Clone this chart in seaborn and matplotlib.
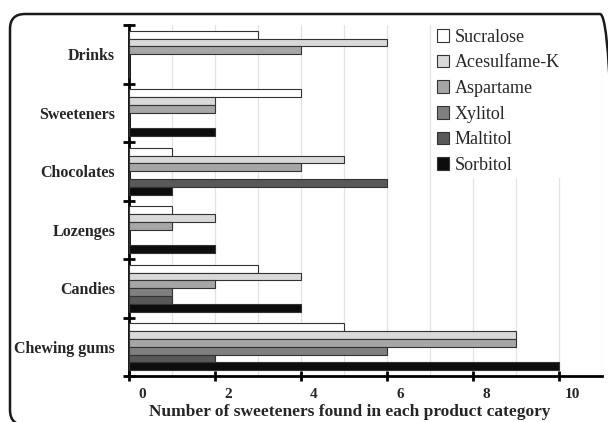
import numpy as np
import pandas as pd
import matplotlib
matplotlib.use("Agg")
import matplotlib.pyplot as plt
import matplotlib.transforms as mtransforms
from matplotlib.patches import FancyBboxPatch
from matplotlib.ticker import MultipleLocator, FixedLocator
import seaborn as sns

categories = ["Drinks", "Sweeteners", "Chocolates", "Lozenges", "Candies", "Chewing gums"]
sweeteners = ["Sucralose", "Acesulfame-K", "Aspartame", "Xylitol", "Maltitol", "Sorbitol"]

sucralose = [3, 4, 1, 1, 3, 5]
acesulfame = [6, 2, 5, 2, 4, 9]
aspartame = [4, 2, 4, 1, 2, 9]
xylitol = [0, 0, 0, 0, 1, 6]
maltitol = [0, 0, 6, 0, 1, 2]
sorbitol = [0, 2, 1, 2, 4, 10]

colors = ["#ffffff", "#d9d9d9", "#a6a6a6", "#7f7f7f", "#595959", "#0d0d0d"]

series = [sucralose, acesulfame, aspartame, xylitol, maltitol, sorbitol]
rows = []
for name, vals in zip(sweeteners, series):
    for cat, v in zip(categories, vals):
        rows.append({"category": cat, "sweetener": name, "count": v})
df = pd.DataFrame(rows)

sns.set_style("white")
plt.rcParams["font.family"] = ["Liberation Serif", "DejaVu Serif"]

fig = plt.figure(figsize=(6.08, 4.22), dpi=100)
ax = fig.add_axes([129 / 608, 1 - 376 / 422, (602 - 129) / 608, (376 - 25) / 422])

sns.barplot(data=df, y="category", x="count", hue="sweetener", order=categories,
            hue_order=sweeteners, palette=colors, orient="h", width=0.8,
            saturation=1, edgecolor="#333333", linewidth=0.8, ax=ax, zorder=3)

ax.set_xlim(0, 11)
ax.set_ylim(5.5, -0.5)
ax.xaxis.set_major_locator(FixedLocator([0, 2, 4, 6, 8, 10]))
ax.xaxis.set_minor_locator(MultipleLocator(1))
ax.grid(axis="x", which="both", color="#e3e3e3", linewidth=0.9, zorder=0)
ax.set_axisbelow(True)

# ticks on the category axis sit between the groups
ax.yaxis.set_minor_locator(FixedLocator(np.arange(-0.5, 6, 1)))
ax.tick_params(axis="y", which="both", left=True)
ax.tick_params(axis="x", which="both", bottom=True)
ax.tick_params(axis="y", which="major", length=0, pad=10)
ax.tick_params(axis="y", which="minor", length=8, width=2, direction="inout", color="black")
ax.tick_params(axis="x", which="major", length=7, width=2, direction="inout", color="black", pad=5)
ax.tick_params(axis="x", which="minor", length=0)

for lab in ax.get_yticklabels():
    lab.set_fontweight("bold")
    lab.set_fontsize(11.5)
offset = mtransforms.ScaledTranslation(0.13, 0, fig.dpi_scale_trans)
for lab in ax.get_xticklabels():
    lab.set_fontweight("bold")
    lab.set_fontsize(11)
    lab.set_transform(lab.get_transform() + offset)

for s in ["top", "right"]:
    ax.spines[s].set_visible(False)
for s in ["left", "bottom"]:
    ax.spines[s].set_color("black")
    ax.spines[s].set_linewidth(2)

ax.set_ylabel("")
ax.set_xlabel("Number of sweeteners found in each product category",
              fontsize=12.5, fontweight="bold")
ax.xaxis.set_label_coords((350 - 129) / (602 - 129), -0.08)

handles, labels = ax.get_legend_handles_labels()
ax.legend(handles, labels, loc="upper left", bbox_to_anchor=(433 / 608, 1 - 25 / 422),
          bbox_transform=fig.transFigure, fontsize=13, frameon=True, framealpha=1,
          facecolor="white", edgecolor="none", handlelength=0.7, handleheight=0.7,
          handletextpad=0.3, labelspacing=0.48, borderpad=0.2, borderaxespad=0)

frame = FancyBboxPatch((0.10, -0.03), 6.05, 4.11,
                       boxstyle="round,pad=0,rounding_size=0.15",
                       transform=fig.dpi_scale_trans, facecolor="none",
                       edgecolor="#1a1a1a", linewidth=1.8, clip_on=False)
fig.patches.append(frame)

fig.savefig("out.png", dpi=100)
